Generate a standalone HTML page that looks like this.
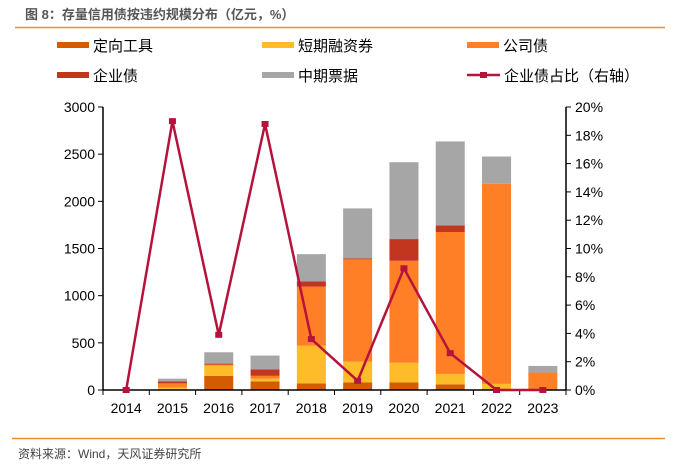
<!DOCTYPE html>
<html><head><meta charset="utf-8"><style>
body{margin:0;background:#fff;}
svg{display:block;font-family:"Liberation Sans","Noto Sans CJK SC",sans-serif;}
</style></head><body>
<svg id="c" width="700" height="465">
<text x="25" y="19" font-size="13" font-weight="bold" fill="#555">图 8：存量信用债按违约规模分布（亿元，%）</text>
<line x1="15" y1="27.5" x2="665" y2="27.5" stroke="#F28A2E" stroke-width="1.5"/>
<line x1="12" y1="438.5" x2="665" y2="438.5" stroke="#F28A2E" stroke-width="1.5"/>
<text x="18" y="458" font-size="12" fill="#444">资料来源：Wind，天风证券研究所</text>
<g id="legend"></g>
<g id="plot"></g>
</svg>
<script>
const categories=['2014','2015','2016','2017','2018','2019','2020','2021','2022','2023'];
const dingxiang=[0,5,150,90,70,80,80,60,10,0];
const duanqi=[0,20,110,30,400,220,210,110,55,0];
const gongsi=[0,45,10,30,625,1085,1080,1505,2120,185];
const qiye=[0,20,10,70,55,10,230,70,0,0];
const zhongqi=[0,30,120,145,290,530,815,890,290,70];
const ratio=[0,19.0,3.9,18.8,3.6,0.65,8.6,2.6,0,0];
const leftTicks=[0,500,1000,1500,2000,2500,3000];
const rightTicks=[0,2,4,6,8,10,12,14,16,18,20];
const seriesNames=['定向工具','短期融资券','公司债','企业债','中期票据'];
const seriesColors=['#D35B00','#FFBC2A','#FF7F27','#C2361F','#A6A6A6'];
const NS='http://www.w3.org/2000/svg';
const X0=103,X1=566,Y0=390,Y1=107;
const band=(X1-X0)/categories.length;
const xc=i=>X0+band*(i+0.5);
const yl=v=>Y0-(v/3000)*(Y0-Y1);
const yr=v=>Y0-(v/20)*(Y0-Y1);
function mk(tag,attrs,parent){const e=document.createElementNS(NS,tag);for(const k in attrs)e.setAttribute(k,attrs[k]);parent.appendChild(e);return e;}
const plot=document.getElementById('plot'),leg=document.getElementById('legend');
const series=[dingxiang,duanqi,gongsi,qiye,zhongqi];
const bw=29;
categories.forEach((c,i)=>{
  let base=0;
  series.forEach((s,k)=>{
    const v=s[i]; if(v<=0) return;
    const r=mk('rect',{x:xc(i)-bw/2,y:yl(base+v),width:bw,height:yl(base)-yl(base+v),fill:seriesColors[k]},plot);
    
    
    base+=v;
  });
});
// axes
let a=mk('line',{x1:X0,y1:Y1,x2:X0,y2:Y0,stroke:'#000','stroke-width':1.5},plot);

a=mk('line',{x1:X1,y1:Y1,x2:X1,y2:Y0,stroke:'#000','stroke-width':1.5},plot);

a=mk('line',{x1:X0,y1:Y0,x2:X1,y2:Y0,stroke:'#000','stroke-width':1.5},plot);

leftTicks.forEach(t=>{
  mk('line',{x1:X0-5,y1:yl(t),x2:X0,y2:yl(t),stroke:'#000'},plot);
  const tx=mk('text',{x:X0-8,y:yl(t)+5,'font-size':14,'text-anchor':'end',fill:'#000'},plot);
  tx.textContent=t;
  
  
});
rightTicks.forEach(t=>{
  mk('line',{x1:X1,y1:yr(t),x2:X1+5,y2:yr(t),stroke:'#000'},plot);
  const tx=mk('text',{x:X1+9,y:yr(t)+5,'font-size':14,fill:'#000'},plot);
  tx.textContent=t+'%';
  
  
});
for(let i=0;i<=categories.length;i++) mk('line',{x1:X0+band*i,y1:Y0,x2:X0+band*i,y2:Y0+5,stroke:'#000'},plot);
categories.forEach((c,i)=>{
  const tx=mk('text',{x:xc(i),y:Y0+23,'font-size':14,'text-anchor':'middle',fill:'#000'},plot);
  tx.textContent=c;
  
  
});
const pl=mk('polyline',{points:ratio.map((v,i)=>xc(i)+','+yr(v)).join(' '),fill:'none',stroke:'#B5133B','stroke-width':2.5},plot);


ratio.forEach((v,i)=>{
  const m=mk('rect',{x:xc(i)-3.5,y:yr(v)-3,width:7,height:6,fill:'#B5133B'},plot);
  
  
});
// legend
const lpos=[[57,45],[262,45],[467,45],[57,75],[262,75]];
seriesNames.forEach((n,k)=>{
  const [x,y]=lpos[k];
  const r=mk('rect',{x:x,y:y-3,width:32,height:6,fill:seriesColors[k]},leg);
  
  
  const t=mk('text',{x:x+36,y:y+6,'font-size':15,fill:'#000'},leg);
  t.textContent=n;
  
  
});
mk('line',{x1:467,y1:75,x2:500,y2:75,stroke:'#B5133B','stroke-width':2.5},leg);
mk('rect',{x:480,y:72,width:7,height:6,fill:'#B5133B'},leg);
const lt=mk('text',{x:504,y:81,'font-size':15,fill:'#000'},leg);
lt.textContent='企业债占比（右轴）';


</script>
</body></html>
